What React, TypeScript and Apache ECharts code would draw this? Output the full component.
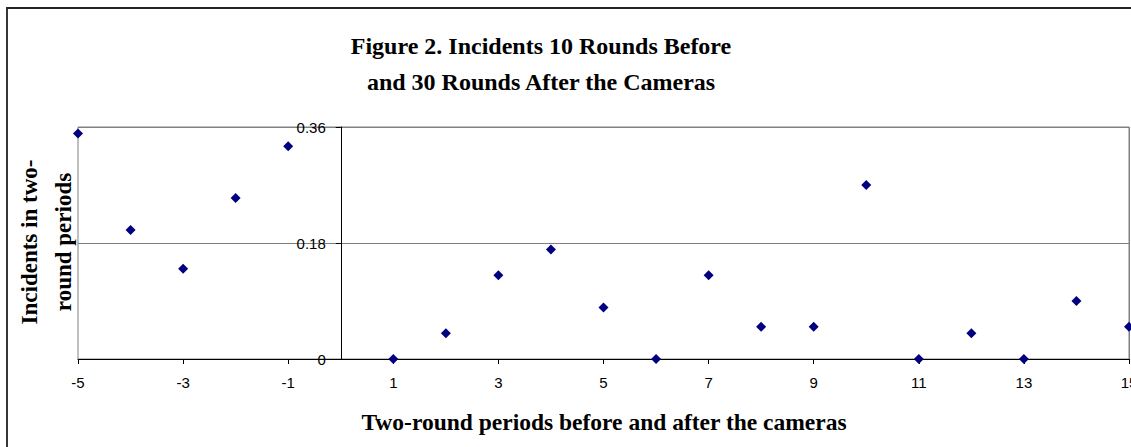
import React, { useEffect, useRef } from "react";
import * as echarts from "echarts";

const periods = [-5, -4, -3, -2, -1, 1, 2, 3, 4, 5, 6, 7, 8, 9, 10, 11, 12, 13, 14, 15];
const incidents = [0.35, 0.2, 0.14, 0.25, 0.33, 0, 0.04, 0.13, 0.17, 0.08, 0, 0.13, 0.05, 0.05, 0.27, 0, 0.04, 0, 0.09, 0.05];
const xTickValues = [-5, -3, -1, 1, 3, 5, 7, 9, 11, 13, 15];
const yTickValues = [0, 0.18, 0.36];
const titleLines = ["Figure 2. Incidents 10 Rounds Before", "and 30 Rounds After the Cameras"];
const yAxisTitle = ["Incidents in two-", "round periods"];
const xAxisTitle = "Two-round periods before and after the cameras";

const SERIF = "'Liberation Serif', 'DejaVu Serif', serif";
const SANS = "'Liberation Sans', Arial, sans-serif";

const GRID_LEFT = 78;
const GRID_RIGHT = 2;
const WIDTH = 1131;
const X_MIN = -5;
const X_MAX = 15;
const Y_MIN = 0;
const Y_MAX = 0.36;

export default function App() {
  const ref = useRef<HTMLDivElement>(null);
  useEffect(() => {
    if (!ref.current) return;
    const chart = echarts.init(ref.current, null, { renderer: "svg" });
    const points = periods.map((p, i) => [p, incidents[i]]);
    // y axis crosses the x axis at x = 0
    const plotW = WIDTH - GRID_LEFT - GRID_RIGHT;
    const zeroOffset = ((0 - X_MIN) / (X_MAX - X_MIN)) * plotW;
    const graphics: any[] = [
      {
        type: "rect",
        shape: { x: 7, y: 8, width: 1300, height: 700 },
        style: { fill: "none", stroke: "#222", lineWidth: 1.8 },
        silent: true,
        z: -1,
      },
      {
        type: "text",
        x: 541,
        y: 64,
        style: {
          text: titleLines.join("\n"),
          font: `bold 24px ${SERIF}`,
          fill: "#000",
          align: "center",
          verticalAlign: "middle",
          lineHeight: 36,
        },
      },
      {
        type: "text",
        x: 46,
        y: 242,
        rotation: Math.PI / 2,
        style: {
          text: yAxisTitle.join("\n"),
          font: `bold 23px ${SERIF}`,
          fill: "#000",
          align: "center",
          verticalAlign: "middle",
          lineHeight: 34,
        },
      },
      {
        type: "text",
        x: 604,
        y: 422,
        style: {
          text: xAxisTitle,
          font: `bold 23.5px ${SERIF}`,
          fill: "#000",
          align: "center",
          verticalAlign: "middle",
        },
      },
    ];
    chart.setOption({
      animation: false,
      backgroundColor: "#ffffff",
      grid: {
        left: GRID_LEFT,
        right: GRID_RIGHT,
        top: 127,
        bottom: 88,
        show: true,
        borderColor: "#808080",
        borderWidth: 1,
        backgroundColor: "transparent",
        outerBoundsMode: "none",
      },
      xAxis: {
        type: "value",
        min: X_MIN,
        max: X_MAX,
        axisLine: { show: true, onZero: true, lineStyle: { color: "#000", width: 1 } },
        axisTick: { show: true, length: 5, customValues: xTickValues, lineStyle: { color: "#000" } },
        axisLabel: {
          customValues: xTickValues,
          margin: 16,
          color: "#000",
          fontFamily: SANS,
          fontSize: 15,
          alignMinLabel: "center",
          alignMaxLabel: "center",
        },
        splitLine: { show: false },
      },
      yAxis: {
        type: "value",
        min: Y_MIN,
        max: Y_MAX,
        interval: 0.18,
        offset: -zeroOffset,
        axisLine: { show: true, onZero: false, lineStyle: { color: "#000", width: 1 } },
        axisTick: { show: true, length: 5, lineStyle: { color: "#000" } },
        axisLabel: {
          margin: 15,
          color: "#000",
          fontFamily: SANS,
          fontSize: 15,
          formatter: (v: number) => {
            const m = yTickValues.find((t) => Math.abs(t - v) < 1e-9);
            return m === 0 ? "0" : (m ?? v).toFixed(2);
          },
        },
        splitLine: { show: true, lineStyle: { color: "#808080", width: 1 } },
      },
      series: [
        {
          type: "scatter",
          data: points,
          symbol: "diamond",
          symbolSize: [10, 10],
          itemStyle: { color: "#000080", opacity: 1 },
          clip: false,
          z: 5,
        },
      ],
      graphic: graphics,
    });
    // right border of the plot area, placed through the axis scales
    const top = chart.convertToPixel({ gridIndex: 0 }, [X_MAX, Y_MAX]) as number[];
    const bot = chart.convertToPixel({ gridIndex: 0 }, [X_MAX, Y_MIN]) as number[];
    if (top && bot) {
      const xr = Math.floor(top[0]) + 0.5;
      chart.setOption({
        graphic: [
          ...graphics,
          {
            type: "line",
            shape: { x1: xr, y1: top[1], x2: xr, y2: bot[1] },
            style: { stroke: "#808080", lineWidth: 1 },
            silent: true,
            z: 1,
          },
        ],
      });
    }
    return () => chart.dispose();
  }, []);
  return (
    <div
      ref={ref}
      style={{ position: "absolute", left: 0, top: 0, width: WIDTH, height: 447, background: "#fff" }}
    />
  );
}
